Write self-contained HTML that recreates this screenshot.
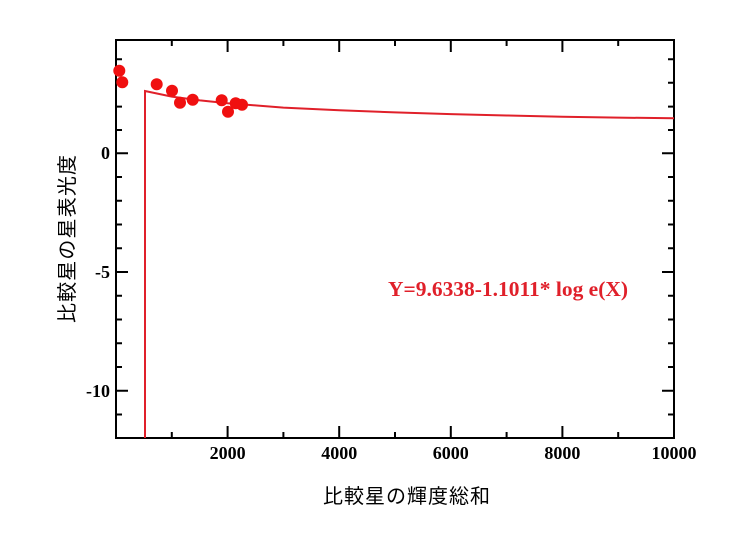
<!DOCTYPE html>
<html><head><meta charset="utf-8"><style>
html,body{margin:0;padding:0;background:#fff;}
svg text{font-family:"Liberation Serif","Noto Serif CJK SC",serif;}
</style></head><body>
<svg width="740" height="549" viewBox="0 0 740 549" xmlns="http://www.w3.org/2000/svg">
<g stroke="#000" stroke-width="2" fill="none">
<rect x="116" y="40" width="558" height="398"/>
<path d="M171.8 438v-6M227.6 438v-12M283.4 438v-6M339.2 438v-12M395 438v-6M450.8 438v-12M506.6 438v-6M562.4 438v-12M618.2 438v-6
M171.8 40v6M227.6 40v12M283.4 40v6M339.2 40v12M395 40v6M450.8 40v12M506.6 40v6M562.4 40v12M618.2 40v6"/>
<path d="M116 59.3h6M116 82.8h6M116 106.6h6M116 130h6M116 153.3h12M116 177h6M116 200.8h6M116 224.5h6M116 248.3h6M116 272h12M116 295.8h6M116 319.5h6M116 343.2h6M116 367h6M116 390.7h12M116 414.5h6
M674 59.3h-6M674 82.8h-6M674 106.6h-6M674 130h-6M674 153.3h-12M674 177h-6M674 200.8h-6M674 224.5h-6M674 248.3h-6M674 272h-12M674 295.8h-6M674 319.5h-6M674 343.2h-6M674 367h-6M674 390.7h-12M674 414.5h-6"/>
</g>
<g font-weight="bold" font-size="18" fill="#000">
<text x="110" y="159" text-anchor="end">0</text>
<text x="110" y="278" text-anchor="end">-5</text>
<text x="110" y="397" text-anchor="end">-10</text>
<text x="227.6" y="459" text-anchor="middle">2000</text>
<text x="339.2" y="459" text-anchor="middle">4000</text>
<text x="450.8" y="459" text-anchor="middle">6000</text>
<text x="562.4" y="459" text-anchor="middle">8000</text>
<text x="674" y="459" text-anchor="middle">10000</text>
</g>
<path d="M145 438V91 L171.8 96.6 L200 100.4 L227.6 103.3 L256.7 105.5 L283.4 107.6 L339.2 110.3 L395 112.4 L450.8 114.1 L506.6 115.5 L562.4 116.7 L618.2 117.6 L674 118.3" fill="none" stroke="#e0202a" stroke-width="2"/>
<g fill="#f01010">
<circle cx="119.3" cy="70.7" r="6"/><circle cx="122.3" cy="82.3" r="6"/>
<circle cx="156.7" cy="84.3" r="6"/><circle cx="172" cy="90.7" r="6"/>
<circle cx="180" cy="102.7" r="6"/><circle cx="192.7" cy="99.7" r="6"/>
<circle cx="221.7" cy="100.3" r="6"/><circle cx="228" cy="111.7" r="6"/>
<circle cx="235.7" cy="103.3" r="6"/><circle cx="242" cy="104.7" r="6"/>
</g>
<text x="388" y="296" font-size="21" font-weight="bold" fill="#e0202a" textLength="240" lengthAdjust="spacingAndGlyphs">Y=9.6338-1.1011* log e(X)</text>
<text x="323" y="503" font-size="20" fill="#000" style='font-family:"Noto Sans CJK JP",sans-serif' textLength="167">比較星の輝度総和</text>
<text transform="translate(74,323) rotate(-90)" font-size="20" fill="#000" style='font-family:"Noto Sans CJK JP",sans-serif' textLength="168">比較星の星表光度</text>
</svg>
</body></html>
